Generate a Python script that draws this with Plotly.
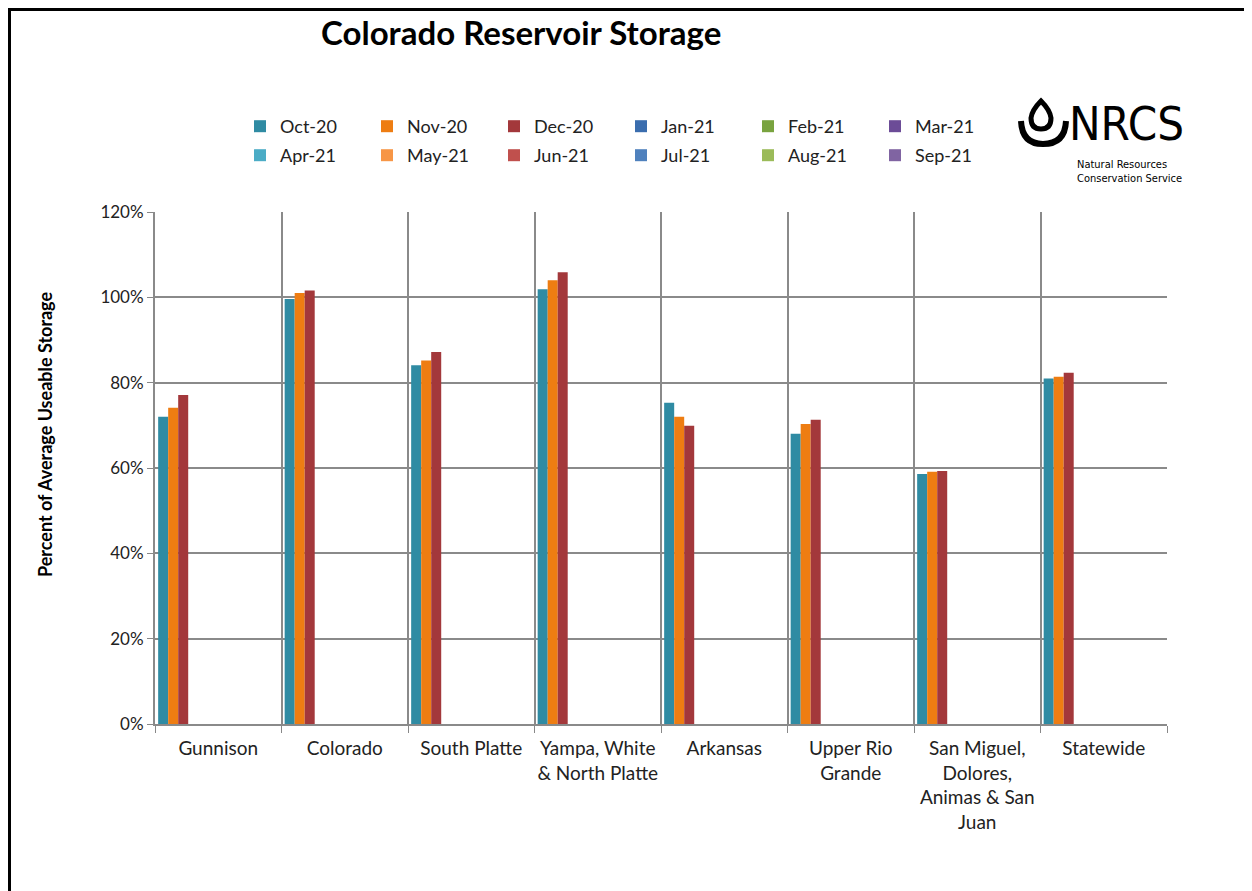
import plotly.graph_objects as go

categories = ["Gunnison", "Colorado", "South Platte", "Yampa, White<br>& North Platte",
              "Arkansas", "Upper Rio<br>Grande", "San Miguel,<br>Dolores,<br>Animas & San<br>Juan",
              "Statewide"]
months = ["Oct-20", "Nov-20", "Dec-20", "Jan-21", "Feb-21", "Mar-21",
          "Apr-21", "May-21", "Jun-21", "Jul-21", "Aug-21", "Sep-21"]
oct20 = [72.0, 99.6, 84.1, 101.9, 75.3, 68.0, 58.6, 81.0]
nov20 = [74.1, 101.0, 85.2, 104.0, 72.0, 70.3, 59.1, 81.4]
dec20 = [77.1, 101.6, 87.2, 105.9, 69.9, 71.3, 59.3, 82.3]
empty = [None] * 8
series = [oct20, nov20, dec20] + [empty] * 9
colors = ["#2F8BA3", "#EE7D12", "#A3383B", "#3A6DAE", "#79A33F", "#6C4C97",
          "#4BACC6", "#F79646", "#C0504D", "#4F81BD", "#9BBB59", "#8064A2"]
yticks = [0, 20, 40, 60, 80, 100, 120]

OFF = 8  # page body margin
W, H = 1252 - OFF, 891 - OFF
L, R, T, B = 155 - OFF, 1167 - OFF, 212 - OFF, 724 - OFF
pw, ph = R - L, B - T

def px(x):
    return (x - OFF - L) / pw

def py(y):
    return (B - (y - OFF)) / ph

fig = go.Figure()
for i, (name, vals, col) in enumerate(zip(months, series, colors)):
    fig.add_trace(go.Bar(x=categories, y=vals, name=name, marker_color=col,
                         marker_line_width=0,
                         legend="legend" if i < 6 else "legend2"))

font_main = "Lato, 'Open Sans', Arial, sans-serif"
font_logo = "'Liberation Sans Narrow', 'DejaVu Sans Condensed', Roboto, sans-serif"

leg_common = dict(orientation="h", x=px(240), xanchor="left", yanchor="top",
                  entrywidth=82, entrywidthmode="pixels", itemwidth=30,
                  font=dict(size=18, color="#222"), tracegroupgap=0,
                  traceorder="normal", bgcolor="rgba(0,0,0,0)")

fig.update_layout(
    width=W, height=H,
    margin=dict(l=L, r=W - R, t=T, b=H - B, autoexpand=False),
    paper_bgcolor="white", plot_bgcolor="white",
    barmode="group", bargap=0.05, bargroupgap=0,
    font=dict(family=font_main, size=16, color="#222"),
    showlegend=True,
    legend=dict(leg_common, y=py(108)),
    legend2=dict(leg_common, y=py(137)),
    xaxis=dict(range=[-0.5, 7.5], tickson="boundaries", ticks="outside", ticklen=7,
               tickcolor="#888", showgrid=True, gridcolor="#8a8a8a", gridwidth=2,
               showline=True, linecolor="#8a8a8a", linewidth=2, tickangle=0,
               ticklabelstandoff=6,
               tickfont=dict(size=19, color="#222"), fixedrange=True),
    yaxis=dict(range=[0, 120], tickvals=yticks, ticktext=[f"{v}%" for v in yticks],
               ticks="outside", ticklen=6, tickcolor="#888",
               showgrid=True, gridcolor="#8a8a8a", gridwidth=2,
               showline=True, linecolor="#8a8a8a", linewidth=2, zeroline=False,
               tickfont=dict(size=17, color="#222"), fixedrange=True),
)

annotations = [
    dict(text="<b>Colorado Reservoir Storage</b>", x=px(521), y=py(32), xref="paper", yref="paper",
         xanchor="center", yanchor="middle", showarrow=False,
         font=dict(size=33, color="black", family=font_main)),
    dict(text="<b>Percent of Average Useable Storage</b>", x=px(45), y=py(435),
         xref="paper", yref="paper", xanchor="center", yanchor="middle",
         showarrow=False, textangle=-90,
         font=dict(size=18, color="black", family=font_main)),
    dict(text="NRCS", x=px(1067), y=py(123), xref="paper", yref="paper",
         xanchor="left", yanchor="middle", showarrow=False,
         font=dict(size=47, color="black", family=font_logo)),
    dict(text="Natural Resources<br>Conservation Service", x=px(1075), y=py(171),
         xref="paper", yref="paper", xanchor="left", yanchor="middle", align="left",
         showarrow=False, font=dict(size=11, color="black", family=font_logo)),
]
fig.update_layout(annotations=annotations)

# logo drop icon + frame
drop = (f"M {px(1041)} {py(101)} "
        f"Q {px(1050)} {py(110)} {px(1051)} {py(118)} "
        f"Q {px(1051)} {py(129)} {px(1041)} {py(129)} "
        f"Q {px(1031)} {py(129)} {px(1031)} {py(118)} "
        f"Q {px(1032)} {py(110)} {px(1041)} {py(101)} Z")
arc = (f"M {px(1021)} {py(121)} "
       f"Q {px(1022)} {py(144)} {px(1043)} {py(144)} "
       f"Q {px(1065)} {py(144)} {px(1066)} {py(121)}")
shapes = [
    dict(type="path", path=drop, xref="paper", yref="paper",
         line=dict(color="black", width=5)),
    dict(type="path", path=arc, xref="paper", yref="paper",
         line=dict(color="black", width=6)),
    dict(type="line", x0=px(9.5), x1=px(1260), y0=py(9.5), y1=py(9.5), xref="paper", yref="paper",
         line=dict(color="black", width=3)),
    dict(type="line", x0=px(9.5), x1=px(9.5), y0=py(8), y1=py(900), xref="paper", yref="paper",
         line=dict(color="black", width=3)),
]
fig.update_layout(shapes=shapes)

fig.write_html("out.html")
